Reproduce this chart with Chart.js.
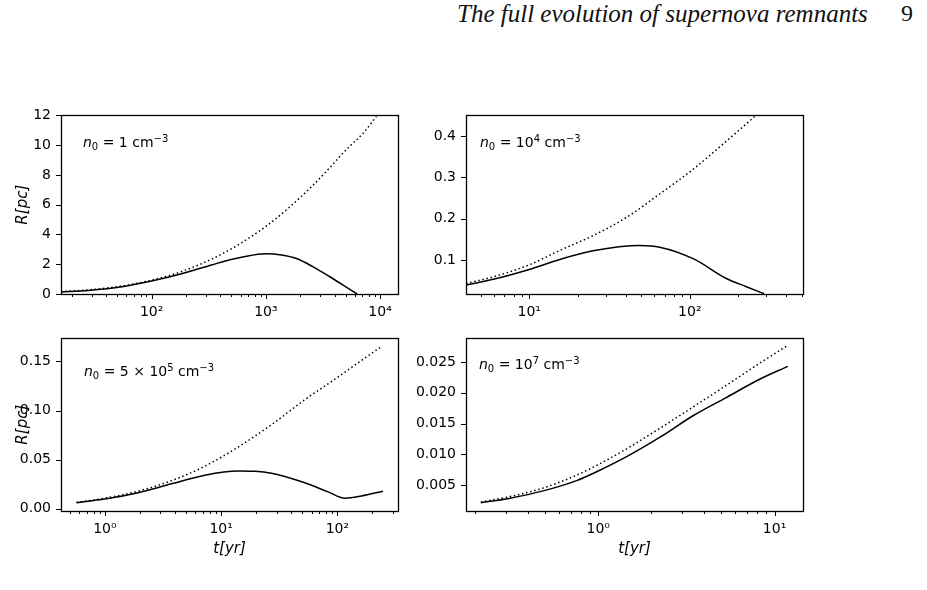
<!DOCTYPE html>
<html>
<head>
<meta charset="UTF-8">
<title>SNR radius evolution</title>
<script src="https://cdn.jsdelivr.net/npm/chart.js@4.4.0/dist/chart.umd.min.js"></script>
<style>
  body { margin: 0; background: #fff; width: 927px; height: 590px; position: relative; overflow: hidden; }
  canvas { position: absolute; }
  #head { position: absolute; left: 457px; top: 0px; font: italic 25px "Liberation Serif", serif; color: #111; white-space: nowrap; }
  #pnum { position: absolute; left: 901px; top: 0px; font: 24px "Liberation Serif", serif; color: #111; }
</style>
<script>
  // n0 = 1 cm^-3
  const tA_dot = [16.1, 27.9, 55, 100, 183, 335, 484, 613, 1000, 1567, 2683, 3630, 5000, 7100, 9290];
  const rA_dot = [0.16, 0.277, 0.54, 0.93, 1.51, 2.34, 2.98, 3.44, 4.54, 5.75, 7.43, 8.49, 9.66, 10.8, 11.93];
  const tA_sol = [16.1, 27.9, 55, 100, 183, 335, 484, 613, 1000, 1371, 1854, 2596, 3630, 4750, 6300];
  const rA_sol = [0.13, 0.24, 0.49, 0.87, 1.36, 1.95, 2.3, 2.47, 2.7, 2.62, 2.38, 1.82, 1.16, 0.6, 0];

  // n0 = 1e4 cm^-3
  const tB_dot = [4.04, 5.97, 10, 15.5, 25, 40.3, 65, 105, 169, 254];
  const rB_dot = [0.043, 0.059, 0.088, 0.123, 0.159, 0.203, 0.26, 0.32, 0.388, 0.448];
  const tB_sol = [4.04, 5.97, 10, 15.5, 25, 48.9, 65, 105, 169, 225, 290];
  const rB_sol = [0.039, 0.053, 0.077, 0.101, 0.122, 0.135, 0.131, 0.103, 0.055, 0.035, 0.018];

  // n0 = 5e5 cm^-3
  const tC_dot = [0.57, 1, 1.93, 3.74, 7.24, 14, 27.1, 52.4, 101, 161, 239];
  const rC_dot = [0.0065, 0.0107, 0.0179, 0.0286, 0.0433, 0.0628, 0.0856, 0.111, 0.134, 0.151, 0.165];
  const tC_sol = [0.57, 1, 1.93, 3.74, 7.24, 14, 19.5, 27.1, 52.4, 83, 116, 161, 247];
  const rC_sol = [0.0062, 0.0098, 0.0163, 0.0254, 0.0342, 0.0384, 0.0381, 0.0361, 0.0264, 0.0172, 0.0107, 0.013, 0.0179];

  // n0 = 1e7 cm^-3
  const tD = [0.216, 0.316, 0.488, 0.754, 1, 1.45, 2.23, 3.45, 5.32, 8.23, 11.9];
  const rD_dot = [0.00225, 0.00313, 0.00453, 0.00661, 0.00832, 0.0109, 0.0142, 0.0177, 0.0212, 0.0248, 0.0277];
  const rD_sol = [0.00214, 0.00287, 0.00406, 0.00573, 0.00729, 0.00962, 0.01274, 0.01627, 0.01923, 0.0222, 0.0243];

  // axis limits and tick labels
  const xRangeA = [16.1, 14350], yRangeA = [0, 12];
  const xRangeB = [4.04, 507], yRangeB = [0.0174, 0.4504];
  const xRangeC = [0.419, 332], yRangeC = [-0.0023, 0.1734];
  const xRangeD = [0.178, 14.5], yRangeD = [0.00079, 0.02884];
  const yTicksA = [0, 2, 4, 6, 8, 10, 12];
  const yTicksB = [0.1, 0.2, 0.3, 0.4];
  const yTicksC = [0, 0.05, 0.10, 0.15];
  const yTicksD = [0.005, 0.010, 0.015, 0.020, 0.025];
</script>
</head>
<body>
<div id="head">The full evolution of supernova remnants</div>
<div id="pnum">9</div>
<canvas id="cA" width="410" height="233" style="left:0px;top:97px"></canvas>
<canvas id="cB" width="410" height="233" style="left:410px;top:97px"></canvas>
<canvas id="cC" width="410" height="250" style="left:0px;top:320px"></canvas>
<canvas id="cD" width="410" height="250" style="left:410px;top:320px"></canvas>

<script>
  const FONT = 'DejaVu Sans';
  const SUP = { '0': '⁰', '1': '¹', '2': '²', '3': '³', '4': '⁴', '5': '⁵', '6': '⁶', '7': '⁷', '8': '⁸', '9': '⁹', '-': '⁻' };

  function pts(t, r) { return t.map((v, i) => ({ x: v, y: r[i] })); }

  function isDecade(v) {
    const e = Math.round(Math.log10(v));
    return Math.abs(v - Math.pow(10, e)) < 1e-9 * v;
  }

  // major + minor ticks of a log axis (1..9 x 10^k)
  function logTicks(min, max) {
    const out = [];
    for (let k = Math.floor(Math.log10(min)); k <= Math.ceil(Math.log10(max)); k++) {
      for (let m = 1; m <= 9; m++) {
        const v = m * Math.pow(10, k);
        if (v >= min * 0.9999 && v <= max * 1.0001) out.push({ value: v });
      }
    }
    return out;
  }

  function decadeLabel(v) {
    if (!isDecade(v)) return '';
    const e = String(Math.round(Math.log10(v)));
    return '10' + e.split('').map(c => SUP[c]).join('');
  }

  // draws text pieces: [text, 'i' | 'sub' | 'sup' | '']
  function drawMath(ctx, x, y, parts) {
    parts.forEach(([txt, st]) => {
      let size = 14, dy = 0, style = '';
      if (st === 'i') style = 'italic ';
      if (st === 'sub') { size = 10; dy = 3; }
      if (st === 'sup') { size = 10; dy = -5.5; }
      ctx.font = style + size + 'px "' + FONT + '"';
      ctx.fillText(txt, x, y + dy);
      x += ctx.measureText(txt).width;
    });
  }

  const framePlugin = {
    id: 'frame',
    afterDraw(chart, args, opts) {
      const { ctx, chartArea: a, scales: { x, y } } = chart;
      ctx.save();
      ctx.strokeStyle = '#000';
      ctx.lineWidth = 1;
      ctx.beginPath();
      x.ticks.forEach(t => {
        const px = Math.round(x.getPixelForValue(t.value)) + 0.5;
        const len = isDecade(t.value) ? 5 : 3;
        ctx.moveTo(px, a.bottom);
        ctx.lineTo(px, a.bottom + len);
      });
      y.ticks.forEach(t => {
        const py = Math.round(y.getPixelForValue(t.value)) + 0.5;
        ctx.moveTo(a.left, py);
        ctx.lineTo(a.left - 5, py);
      });
      ctx.stroke();
      ctx.lineWidth = 1.3;
      ctx.strokeRect(Math.round(a.left) + 0.5, Math.round(a.top) + 0.5,
        Math.round(a.width), Math.round(a.height));
      ctx.fillStyle = '#000';
      ctx.textBaseline = 'alphabetic';
      drawMath(ctx, a.left + opts.lx, a.top + opts.ly, opts.label);
      ctx.restore();
    }
  };

  function panel(id, o) {
    return new Chart(document.getElementById(id), {
      type: 'line',
      data: {
        datasets: [
          { data: pts(o.tDot, o.rDot), borderColor: '#000', borderWidth: 1.5, borderDash: [1.5, 2.7],
            pointRadius: 0, cubicInterpolationMode: 'monotone' },
          { data: pts(o.tSol, o.rSol), borderColor: '#000', borderWidth: 1.5,
            pointRadius: 0, cubicInterpolationMode: 'monotone' }
        ]
      },
      options: {
        responsive: false,
        animation: false,
        events: [],
        layout: { padding: { top: o.padTop, right: o.padRight, left: 0, bottom: 0 } },
        plugins: {
          legend: { display: false },
          tooltip: { enabled: false },
          frame: { label: o.label, lx: o.lx, ly: o.ly }
        },
        scales: {
          x: {
            type: 'logarithmic',
            min: o.xRange[0], max: o.xRange[1],
            afterBuildTicks: s => { s.ticks = logTicks(o.xRange[0], o.xRange[1]); },
            afterFit: s => { s.height = o.xH; },
            grid: { display: false, drawTicks: false },
            border: { display: false },
            ticks: { autoSkip: false, maxRotation: 0, minRotation: 0, padding: 10, color: '#000',
              font: { family: FONT, size: 14 }, callback: v => decadeLabel(v) },
            title: { display: o.xTitle, text: 't[yr]', color: '#000', padding: { top: 0, bottom: 12 },
              font: { family: FONT, size: 15, style: 'italic' } }
          },
          y: {
            type: 'linear',
            min: o.yRange[0], max: o.yRange[1],
            afterBuildTicks: s => { s.ticks = o.yTicks.map(v => ({ value: v })); },
            afterFit: s => { s.width = o.yW; },
            grid: { display: false, drawTicks: false },
            border: { display: false },
            ticks: { padding: 10, color: '#000', font: { family: FONT, size: 14 },
              callback: v => Number(v).toFixed(o.dec) },
            title: { display: o.yTitle, text: 'R[pc]', color: '#000', padding: { top: 14 },
              font: { family: FONT, size: 15, style: 'italic' } }
          }
        }
      },
      plugins: [framePlugin]
    });
  }

  panel('cA', { tDot: tA_dot, rDot: rA_dot, tSol: tA_sol, rSol: rA_sol,
    xRange: xRangeA, yRange: yRangeA, yTicks: yTicksA, dec: 0,
    padTop: 17, padRight: 12, yW: 61, xH: 36, xTitle: false, yTitle: true,
    lx: 22, ly: 32, label: [['n', 'i'], ['0', 'sub'], [' = 1 cm', ''], ['−3', 'sup']] });

  panel('cB', { tDot: tB_dot, rDot: rB_dot, tSol: tB_sol, rSol: rB_sol,
    xRange: xRangeB, yRange: yRangeB, yTicks: yTicksB, dec: 1,
    padTop: 17, padRight: 17, yW: 56, xH: 36, xTitle: false, yTitle: false,
    lx: 14, ly: 32, label: [['n', 'i'], ['0', 'sub'], [' = 10', ''], ['4', 'sup'], [' cm', ''], ['−3', 'sup']] });

  panel('cC', { tDot: tC_dot, rDot: rC_dot, tSol: tC_sol, rSol: rC_sol,
    xRange: xRangeC, yRange: yRangeC, yTicks: yTicksC, dec: 2,
    padTop: 11, padRight: 12, yW: 61, xH: 59, xTitle: true, yTitle: true,
    lx: 23, ly: 38, label: [['n', 'i'], ['0', 'sub'], [' = 5 × 10', ''], ['5', 'sup'], [' cm', ''], ['−3', 'sup']] });

  panel('cD', { tDot: tD, rDot: rD_dot, tSol: tD, rSol: rD_sol,
    xRange: xRangeD, yRange: yRangeD, yTicks: yTicksD, dec: 3,
    padTop: 11, padRight: 17, yW: 56, xH: 59, xTitle: true, yTitle: false,
    lx: 13, ly: 31, label: [['n', 'i'], ['0', 'sub'], [' = 10', ''], ['7', 'sup'], [' cm', ''], ['−3', 'sup']] });
</script>
</body>
</html>
